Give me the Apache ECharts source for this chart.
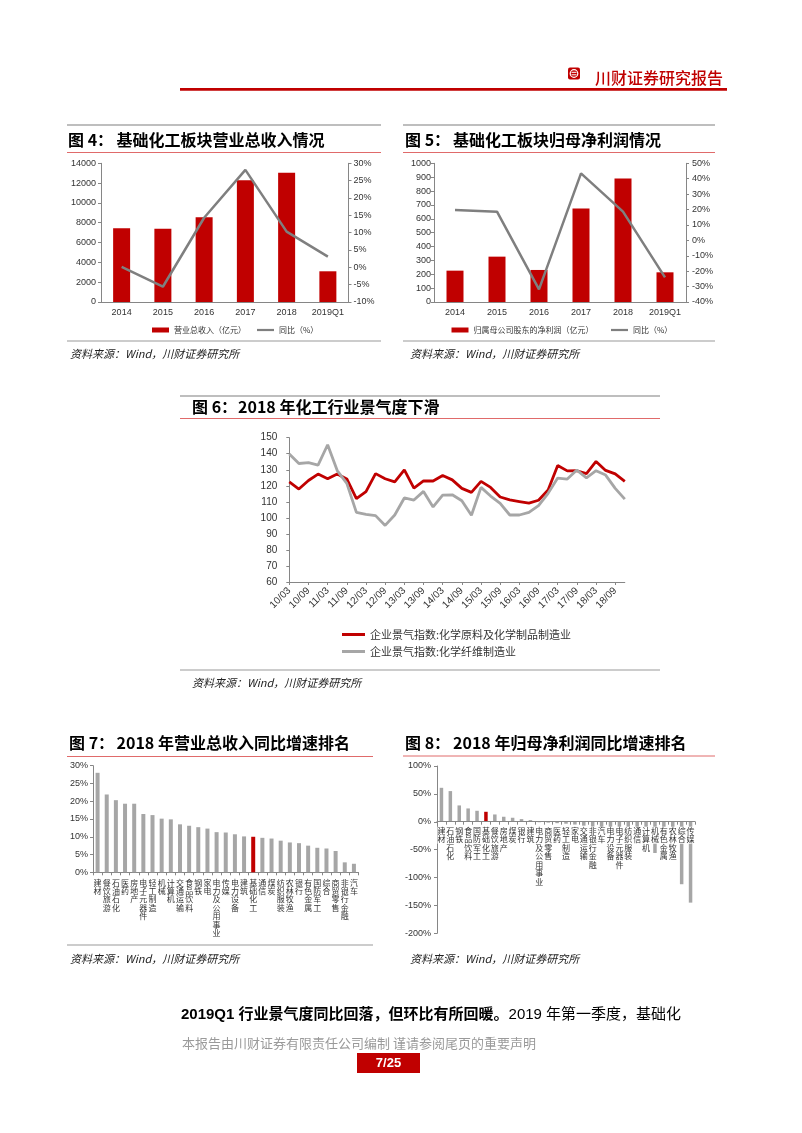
<!DOCTYPE html>
<html><head><meta charset="utf-8">
<script src="https://cdn.jsdelivr.net/npm/echarts@6/dist/echarts.min.js"></script>
<style>html,body{margin:0;padding:0;background:#fff}#c{width:802px;height:1133px}</style>
</head><body><div id="c"></div>
<script>
// ---- Data ----
const years = ['2014','2015','2016','2017','2018','2019Q1'];
const revenue = [7450, 7400, 8550, 12300, 13050, 3100];
const revenueYoY = [0.1, -5.6, 14.3, 28.1, 10.3, 3.1];
const profit = [226, 327, 231, 675, 890, 214];
const profitYoY = [19.7, 18.6, -31.8, 43.5, 18.6, -24];

const quarters = ['10/03','10/06','10/09','10/12','11/03','11/06','11/09','11/12','12/03','12/06','12/09','12/12',
  '13/03','13/06','13/09','13/12','14/03','14/06','14/09','14/12','15/03','15/06','15/09','15/12',
  '16/03','16/06','16/09','16/12','17/03','17/06','17/09','17/12','18/03','18/06','18/09','18/12'];
const chemRaw = [122.4,118,123.3,127.3,124.4,127.4,124.3,112,116.4,127.6,124.4,122.4,
  129.9,118.6,123,123,126.4,123.7,118.4,115.9,122.8,119,113,111.2,
  110.2,109.2,111,117.4,132.7,129.3,129.4,127.6,135.2,129.6,127.4,122.8];
const chemFiber = [139.9,133.9,134.4,132.9,145.6,129.5,121.5,103.4,102.2,101.4,95.3,101.8,
  112.4,111.1,116.5,106.8,114.2,114.4,110.7,101.6,119,113.6,109,101.8,
  101.8,103.4,107.6,115.3,124.8,124.2,129.8,125,129.4,126.7,118.4,111.7];

const rank7Cats = ['建材','餐饮旅游','石油石化','医药','房地产','电子元器件','轻工制造','机械','计算机','交通运输',
  '食品饮料','钢铁','家电','电力及公用事业','传媒','电力设备','建筑','基础化工','通信','煤炭',
  '纺织服装','农林牧渔','银行','有色金属','国防军工','综合','商贸零售','非银行金融','汽车'];
const rank7Vals = [28.0,21.9,20.3,19.3,19.3,16.4,16.1,15.1,14.9,13.5,
  13.1,12.7,12.3,11.3,11.2,10.7,10.1,10.0,9.7,9.5,
  8.9,8.4,8.2,7.5,6.9,6.7,6.0,2.8,2.4];

const rank8Cats = ['建材','石油石化','钢铁','食品饮料','国防军工','基础化工','餐饮旅游','房地产','煤炭','银行',
  '建筑','电力及公用事业','商贸零售','医药','轻工制造','家电','交通运输','非银行金融','汽车','电力设备',
  '电子元器件','纺织服装','通信','计算机','机械','有色金属','农林牧渔','综合','传媒'];
const rank8Vals = [60.9,55,29.3,23.9,19.7,17.9,13.1,9,7.2,4.8,
  3,-0.8,-1.5,-2.5,-3.5,-5,-7,-9,-10,-12,
  -14,-17,-25,-52,-56,-60,-65,-112,-145];

// ---- Styles ----
const RED = '#C00000';
const GRAY_LINE = '#7F7F7F';
const GRAY_BAR = '#A6A6A6';
const AX = '#868686';
const TXT = '#333333';
const F = '"Liberation Sans","Noto Sans CJK SC",sans-serif';
const FC = '"Noto Sans CJK SC","Liberation Sans",sans-serif';

function hl(x1, x2, y, color, w) {
  return {type:'line', silent:true, shape:{x1:x1, y1:y, x2:x2, y2:y}, style:{stroke:color, lineWidth:w}};
}
function tx(x, y, text, size, opts) {
  opts = opts || {};
  return {type:'text', silent:true, x:x, y:y, style:Object.assign({
    text:text, fill:opts.fill || '#000', fontSize:size, fontFamily:opts.family || FC,
    fontWeight:opts.weight || 'normal', fontStyle:opts.style || 'normal',
    textAlign:opts.align || 'left', align:opts.align || 'left',
    textVerticalAlign:'middle', verticalAlign:'middle'
  }, opts.extra || {})};
}
const vert = v => v.split('').join('\n');
const plain = v => String(v);
const hiData = (cats, vals, key) => vals.map((v, i) => cats[i] === key ? {value:v, itemStyle:{color:RED}} : v);

function valAxis(grid, o) {
  return Object.assign({
    type:'value', gridIndex:grid,
    axisLine:{show:true, lineStyle:{color:AX}},
    axisTick:{show:true, length:3, lineStyle:{color:AX}},
    splitLine:{show:false},
    axisLabel:{fontSize:9, color:TXT, fontFamily:F, margin:5, formatter:plain}
  }, o);
}
function lg(left, top, name, w, h, size, icon) {
  return {left:left, top:top, itemWidth:w, itemHeight:h, icon:icon || 'rect',
    textStyle:{fontSize:size, color:TXT, fontFamily:FC}, data:[name]};
}

const graphics = [
  // header
  {type:'rect', silent:true, shape:{x:568, y:67.5, width:12, height:12, r:2}, style:{fill:RED}},
  {type:'circle', silent:true, shape:{cx:574, cy:73.5, r:3.8}, style:{fill:'none', stroke:'#fff', lineWidth:1.2}},
  hl(571.5, 576.5, 72.3, '#fff', 1), hl(571.5, 576.5, 74.8, '#fff', 1),
  tx(595, 78, '川财证券研究报告', 16, {fill:RED, weight:500}),
  {type:'rect', silent:true, shape:{x:180, y:88, width:547, height:2.7}, style:{fill:RED}},

  // fig 4
  hl(67, 381, 125, GRAY_LINE, 1.2),
  tx(68, 140, '图 4：', 16, {weight:'bold'}),
  tx(116.5, 140, '基础化工板块营业总收入情况', 16, {weight:'bold'}),
  hl(67, 381, 152.5, '#E06A6A', 1),
  hl(67, 381, 341, '#999', 1),
  tx(70, 354, '资料来源：Wind，川财证券研究所', 11, {style:'italic', fill:'#222'}),

  // fig 5
  hl(403, 715, 125, GRAY_LINE, 1.2),
  tx(405, 140, '图 5：', 16, {weight:'bold'}),
  tx(453, 140, '基础化工板块归母净利润情况', 16, {weight:'bold'}),
  hl(403, 715, 152.5, '#E06A6A', 1),
  hl(403, 715, 341, '#999', 1),
  tx(410, 354, '资料来源：Wind，川财证券研究所', 11, {style:'italic', fill:'#222'}),

  // fig 6
  hl(180, 660, 396, GRAY_LINE, 1.2),
  tx(192, 407, '图 6：', 16, {weight:'bold'}),
  tx(238, 407, '2018 年化工行业景气度下滑', 16, {weight:'bold'}),
  hl(180, 660, 418.5, '#E06A6A', 1),
  hl(180, 660, 670, '#999', 1),
  tx(192, 683, '资料来源：Wind，川财证券研究所', 11, {style:'italic', fill:'#222'}),

  // fig 7
  tx(69, 743, '图 7：', 16, {weight:'bold'}),
  tx(116.5, 743, '2018 年营业总收入同比增速排名', 16, {weight:'bold'}),
  hl(67, 373, 756.5, '#E06A6A', 1),
  hl(67, 373, 945, '#999', 1),
  tx(70, 959, '资料来源：Wind，川财证券研究所', 11, {style:'italic', fill:'#222'}),

  // fig 8
  tx(405, 743, '图 8：', 16, {weight:'bold'}),
  tx(453, 743, '2018 年归母净利润同比增速排名', 16, {weight:'bold'}),
  hl(403, 715, 756, '#E06A6A', 1),
  tx(410, 959, '资料来源：Wind，川财证券研究所', 11, {style:'italic', fill:'#222'}),

  // footer
  {type:'text', silent:true, x:181, y:1015, style:{
    text:'{b|2019Q1 行业景气度同比回落，但环比有所回暖。}2019 年第一季度，基础化',
    fill:'#000', fontSize:15, fontFamily:F, textVerticalAlign:'middle', verticalAlign:'middle',
    rich:{b:{fontWeight:'bold', fontSize:15, fontFamily:F, fill:'#000'}}
  }},
  tx(182, 1043, '本报告由川财证券有限责任公司编制 谨请参阅尾页的重要声明', 13, {fill:'#9a9a9a'}),
  {type:'rect', silent:true, shape:{x:357, y:1053, width:63, height:20}, style:{fill:RED}},
  tx(388.5, 1063.5, '7/25', 13, {fill:'#fff', weight:'bold', align:'center', family:F})
];

const option = {
  animation:false,
  backgroundColor:'#fff',
  textStyle:{fontFamily:F},
  graphic:graphics,
  grid:[
    {left:101, top:163.3, width:247.5, height:138.7},
    {left:434, top:163.3, width:252, height:138.7},
    {left:289.3, top:437.7, width:335.5, height:144.3},
    {left:93, top:765.7, width:265.5, height:106.6},
    {left:437, top:766, width:258, height:167.3}
  ],
  legend:[
    lg(147, 321, '营业总收入（亿元）', 17, 5, 8),
    lg(252, 321, '同比（%）', 17, 2.2, 8),
    lg(446.5, 321, '归属母公司股东的净利润（亿元）', 17, 5, 8),
    lg(606, 321, '同比（%） ', 17, 2.2, 8),
    lg(337, 624, '企业景气指数:化学原料及化学制品制造业', 23, 3, 11),
    lg(337, 641, '企业景气指数:化学纤维制造业', 23, 3, 11)
  ],
  xAxis:[
    {type:'category', gridIndex:0, data:years,
     axisLine:{show:true, onZero:false, lineStyle:{color:AX}}, axisTick:{show:false},
     axisLabel:{interval:0, fontSize:9, color:TXT, fontFamily:F, margin:6}},
    {type:'category', gridIndex:1, data:years,
     axisLine:{show:true, onZero:false, lineStyle:{color:AX}}, axisTick:{show:false},
     axisLabel:{interval:0, fontSize:9, color:TXT, fontFamily:F, margin:6}},
    {type:'category', gridIndex:2, data:quarters, boundaryGap:false,
     axisLine:{show:true, onZero:false, lineStyle:{color:AX}},
     axisTick:{show:true, interval:1, length:3, lineStyle:{color:AX}},
     axisLabel:{fontSize:10, color:TXT, fontFamily:F, margin:7, rotate:45, interval:1}},
    {type:'category', gridIndex:3, data:rank7Cats,
     axisLine:{show:true, onZero:false, lineStyle:{color:AX}},
     axisTick:{show:true, length:3, lineStyle:{color:AX}},
     axisLabel:{interval:0, fontSize:8, lineHeight:8.4, color:TXT, fontFamily:FC, margin:6, formatter:vert}},
    {type:'category', gridIndex:4, data:rank8Cats, z:5, offset:-111.6,
     axisLine:{show:true, onZero:false, lineStyle:{color:AX}},
     axisTick:{show:true, length:3, lineStyle:{color:AX}},
     axisLabel:{interval:0, fontSize:8, lineHeight:8.5, color:TXT, fontFamily:FC, margin:5,
                formatter:vert, backgroundColor:'#fff'}}
  ],
  yAxis:[
    valAxis(0, {min:0, max:14000, interval:2000}),
    valAxis(0, {position:'right', min:-10, max:30, interval:5,
      axisLabel:{fontSize:9, color:TXT, fontFamily:F, margin:5, formatter:'{value}%'}}),
    valAxis(1, {min:0, max:1000, interval:100,
      axisLabel:{fontSize:9, color:TXT, fontFamily:F, margin:3, formatter:plain}}),
    valAxis(1, {position:'right', min:-40, max:50, interval:10,
      axisLabel:{fontSize:9, color:TXT, fontFamily:F, margin:6, formatter:'{value}%'}}),
    valAxis(2, {min:60, max:150, interval:10,
      axisLabel:{fontSize:10, color:TXT, fontFamily:F, margin:12, formatter:plain}}),
    valAxis(3, {min:0, max:30, interval:5,
      axisLabel:{fontSize:9, color:TXT, fontFamily:F, margin:5, formatter:'{value}%'}}),
    valAxis(4, {min:-200, max:100, interval:50,
      axisLabel:{fontSize:9, color:TXT, fontFamily:F, margin:6, formatter:'{value}%'}})
  ],
  series:[
    {name:'营业总收入（亿元）', type:'bar', xAxisIndex:0, yAxisIndex:0, data:revenue,
     barWidth:17, itemStyle:{color:RED}},
    {name:'同比（%）', type:'line', xAxisIndex:0, yAxisIndex:1, data:revenueYoY,
     symbol:'none', lineStyle:{width:2.5, color:GRAY_LINE}, itemStyle:{color:GRAY_LINE}},
    {name:'归属母公司股东的净利润（亿元）', type:'bar', xAxisIndex:1, yAxisIndex:2, data:profit,
     barWidth:17, itemStyle:{color:RED}},
    {name:'同比（%） ', type:'line', xAxisIndex:1, yAxisIndex:3, data:profitYoY,
     symbol:'none', lineStyle:{width:2.5, color:GRAY_LINE}, itemStyle:{color:GRAY_LINE}},
    {name:'企业景气指数:化学原料及化学制品制造业', type:'line', xAxisIndex:2, yAxisIndex:4, data:chemRaw,
     symbol:'none', lineStyle:{width:2.8, color:RED}, itemStyle:{color:RED}},
    {name:'企业景气指数:化学纤维制造业', type:'line', xAxisIndex:2, yAxisIndex:4, data:chemFiber,
     symbol:'none', lineStyle:{width:2.8, color:GRAY_BAR}, itemStyle:{color:GRAY_BAR}},
    {name:'rank7', type:'bar', xAxisIndex:3, yAxisIndex:5, data:hiData(rank7Cats, rank7Vals, '基础化工'),
     barWidth:4, itemStyle:{color:GRAY_BAR}},
    {name:'rank8', type:'bar', xAxisIndex:4, yAxisIndex:6, data:hiData(rank8Cats, rank8Vals, '基础化工'),
     barWidth:3.5, itemStyle:{color:GRAY_BAR}}
  ]
};
const chart = echarts.init(document.getElementById('c'));
chart.setOption(option);
</script>
</body></html>
